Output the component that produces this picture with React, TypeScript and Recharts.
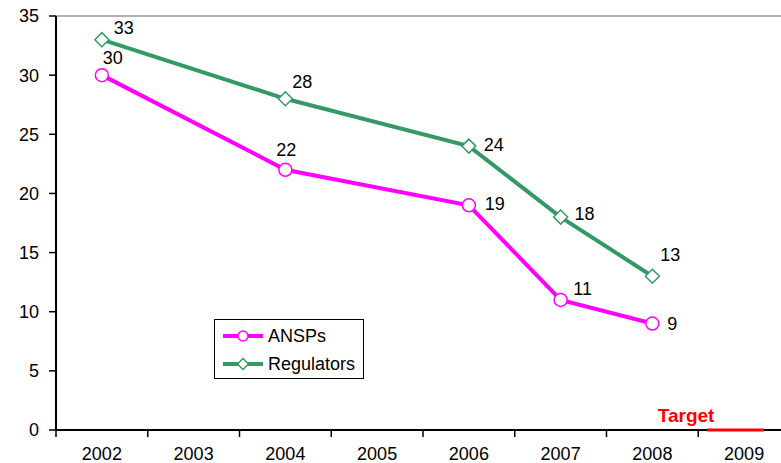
import { LineChart, Line, XAxis, YAxis, ReferenceLine, LabelList } from "recharts";

// yearly figures, gaps in 2003/2005 are bridged by the lines
const years = ["2002", "2003", "2004", "2005", "2006", "2007", "2008", "2009"];
const ansps = [30, null, 22, null, 19, 11, 9, null];
const regulators = [33, null, 28, null, 24, 18, 13, null];
const target = [null, null, null, null, null, null, null, 0];
const yTicks = [0, 5, 10, 15, 20, 25, 30, 35];

// label nudges (dx, dy) per point index
const anspLabelOffsets: Record<number, [number, number]> = {
  0: [11, -17],
  2: [1, -20],
  4: [26, -1],
  5: [22, -11],
  6: [20, 0],
};
const regLabelOffsets: Record<number, [number, number]> = {
  0: [22, -12],
  2: [17, -17],
  4: [25, -1],
  5: [24, -3],
  6: [18, -21],
};

const MAGENTA = "#ff00ff";
const GREEN = "#339966";
const FONT = "'Liberation Sans', Arial, sans-serif";
const FS = 18;

const CHART_W = 800;
const CHART_H = 463;
const LEFT = 56;
const RIGHT_MARGIN = 10;
const HALF_BAND = (CHART_W - LEFT - RIGHT_MARGIN) / years.length / 2;

const data = years.map((year, i) => ({
  year,
  ansps: ansps[i],
  regulators: regulators[i],
  target: target[i],
}));

const YearTick = (props: any) => {
  const { x, y, payload, index } = props;
  return (
    <g>
      <line x1={x - HALF_BAND} x2={x - HALF_BAND} y1={y} y2={y + 7} stroke="#000" strokeWidth={1.5} />
      {index === years.length - 1 && (
        <line x1={x + HALF_BAND} x2={x + HALF_BAND} y1={y} y2={y + 7} stroke="#000" strokeWidth={1.5} />
      )}
      <text x={x} y={y + 24} textAnchor="middle" dominantBaseline="central" fontSize={FS} fill="#000" fontFamily={FONT}>
        {payload.value}
      </text>
    </g>
  );
};

const CircleDot = (props: any) => {
  const { cx, cy, index } = props;
  if (cx == null || cy == null || ansps[index] == null) return <g key={index} />;
  return <circle key={index} cx={cx} cy={cy} r={6.5} fill="#fff" stroke={MAGENTA} strokeWidth={1.5} />;
};

const DiamondDot = (props: any) => {
  const { cx, cy, index } = props;
  if (cx == null || cy == null || regulators[index] == null) return <g key={index} />;
  const s = 7;
  return (
    <path
      key={index}
      d={`M${cx - s},${cy} L${cx},${cy - s} L${cx + s},${cy} L${cx},${cy + s} Z`}
      fill="#fff"
      stroke={GREEN}
      strokeWidth={1.5}
    />
  );
};

const TargetDot = (props: any) => {
  const { cx, cy, index } = props;
  if (cx == null || cy == null || target[index] == null) return <g key={index} />;
  return (
    <g key={index}>
      <line x1={cx - 37} x2={cx + 20} y1={cy} y2={cy} stroke="#ff0000" strokeWidth={3} />
      <text x={cx - 58} y={cy - 15} textAnchor="middle" dominantBaseline="central" fontSize={19} fontWeight="bold" fill="#ff0000" fontFamily={FONT}>
        Target
      </text>
    </g>
  );
};

const makeLabel = (offsets: Record<number, [number, number]>) => (props: any) => {
  const { x, y, value, index } = props;
  if (value == null || offsets[index] == null) return null;
  const [dx, dy] = offsets[index];
  return (
    <text x={x + dx} y={y + dy} textAnchor="middle" dominantBaseline="central" fontSize={FS} fill="#000" fontFamily={FONT}>
      {value}
    </text>
  );
};

const LegendBox = () => {
  const rows = [
    { name: "ANSPs", color: MAGENTA, shape: "circle" },
    { name: "Regulators", color: GREEN, shape: "diamond" },
  ];
  return (
    <div
      style={{
        position: "absolute",
        left: 214,
        top: 319,
        width: 148,
        height: 58,
        border: "1px solid #000",
        background: "#fff",
        fontFamily: FONT,
        fontSize: FS,
      }}
    >
      {rows.map((r, i) => (
        <div key={r.name} style={{ position: "absolute", left: 7, top: 5 + i * 28, height: 22, display: "flex", alignItems: "center" }}>
          <svg width={42} height={22}>
            <line x1={1} x2={41} y1={11} y2={11} stroke={r.color} strokeWidth={4} />
            {r.shape === "circle" ? (
              <circle cx={21} cy={11} r={5} fill="#fff" stroke={r.color} strokeWidth={1.5} />
            ) : (
              <path d="M15.5,11 L21,5.5 L26.5,11 L21,16.5 Z" fill="#fff" stroke={r.color} strokeWidth={1.5} />
            )}
          </svg>
          <span style={{ marginLeft: 4, color: "#000", lineHeight: "22px" }}>{r.name}</span>
        </div>
      ))}
    </div>
  );
};

export default function App() {
  return (
    <div style={{ position: "absolute", left: 0, top: 0, width: 781, height: 463, overflow: "hidden", background: "#fff" }}>
      <LineChart width={CHART_W} height={CHART_H} data={data} margin={{ top: 16, right: RIGHT_MARGIN, bottom: 0, left: 0 }}>
        <XAxis
          dataKey="year"
          axisLine={{ stroke: "#000", strokeWidth: 2 }}
          tickLine={false}
          tickSize={0}
          tickMargin={0}
          height={33}
          padding={{ left: HALF_BAND, right: HALF_BAND }}
          tick={<YearTick />}
          interval={0}
        />
        <YAxis
          domain={[0, 35]}
          ticks={yTicks}
          width={LEFT}
          axisLine={{ stroke: "#000", strokeWidth: 2 }}
          tickLine={{ stroke: "#000", strokeWidth: 1.5 }}
          tickSize={7}
          tickMargin={10}
          tick={{ fontSize: FS, fill: "#000", fontFamily: FONT }}
        />
        <ReferenceLine y={35} stroke="#999" strokeWidth={1.5} />
        <Line
          dataKey="regulators"
          stroke={GREEN}
          strokeWidth={4}
          connectNulls
          dot={<DiamondDot />}
          isAnimationActive={false}
        >
          <LabelList dataKey="regulators" content={makeLabel(regLabelOffsets)} />
        </Line>
        <Line
          dataKey="ansps"
          stroke={MAGENTA}
          strokeWidth={4}
          connectNulls
          dot={<CircleDot />}
          isAnimationActive={false}
        >
          <LabelList dataKey="ansps" content={makeLabel(anspLabelOffsets)} />
        </Line>
        <Line dataKey="target" stroke="none" dot={<TargetDot />} isAnimationActive={false} />
      </LineChart>
      <LegendBox />
    </div>
  );
}
